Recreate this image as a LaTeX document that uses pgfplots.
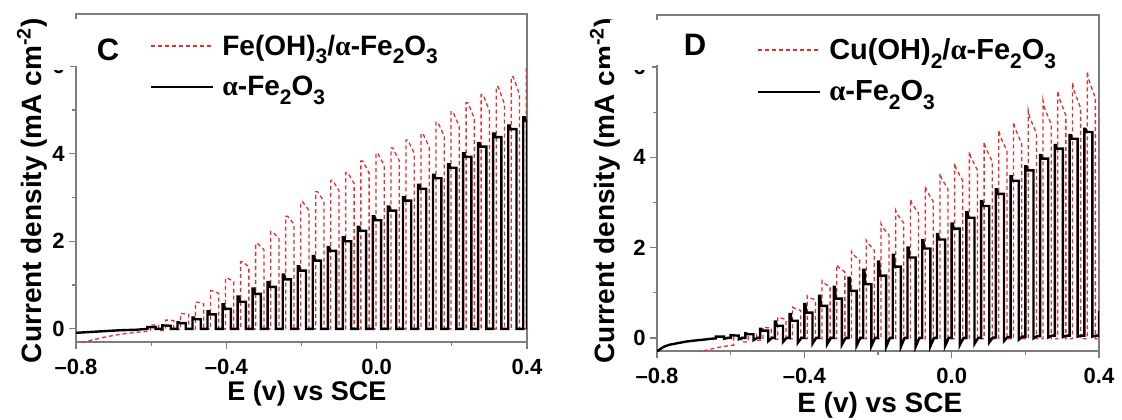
\documentclass[border=0pt]{standalone}
\usepackage{pgfplots}
\pgfplotsset{compat=1.18}
\usepackage{fontspec}
\setmainfont{Liberation Sans}
\newfontfamily\alfont{Liberation Serif}
\newcommand{\alf}{{\alfont\bfseries α}}
\newcommand{\sub}[1]{\raisebox{-0.6ex}{\fontsize{10.5}{11}\selectfont #1}}
\definecolor{redline}{RGB}{232,45,45}
\definecolor{axisgray}{RGB}{125,125,125}
\pgfplotsset{
  panel/.style={
    scale only axis,
    xmin=-0.8, xmax=0.4,
    xtick={-0.8,-0.4,0,0.4},
    xticklabels={–0.8,–0.4,0.0,0.4},
    ytick={0,2,4,6},
    yticklabels={0,2,4,6},
    minor x tick num=1,
    minor y tick num=1,
    tick pos=left,
    tick align=inside,
    major tick length=-3.5pt,
    minor tick length=-2pt,
    axis line style={draw=axisgray, line width=0.6pt},
    every tick/.style={draw=axisgray, line width=0.6pt},
    tick label style={font=\fontsize{11}{13}\selectfont\bfseries, inner sep=0pt},
    xticklabel style={anchor=north, yshift=-8.5pt},
    yticklabel style={anchor=east, xshift=-5.5pt},
    ylabel={Current density (mA cm\textsuperscript{-2})},
    xlabel={E (v) vs SCE},
    legend cell align=left,
    legend image code/.code={\draw[##1, line width=1pt] (0pt,0pt) -- (31pt,0pt);},
    clip=true,
  },
  redser/.style={draw=redline, line width=0.65pt, dash pattern=on 2pt off 1.5pt},
  blackser/.style={draw=black, line width=1.2pt, line join=miter},
}
\begin{document}
\begin{tikzpicture}
\useasboundingbox (0,0) rectangle (561pt,209.5pt);
% ---------------- Panel C ----------------
\begin{axis}[panel,
  at={(38pt,38.5pt)}, anchor=south west,
  width=225.5pt, height=164pt,
  ymin=-0.30, ymax=7.19,
  ylabel style={at={(axis description cs:-0.0976,0.462)}, anchor=center, font=\fontsize{14}{16}\selectfont\bfseries},
  xlabel style={at={(axis description cs:0.512,-0.158)}, anchor=center, font=\fontsize{13.5}{15}\selectfont\bfseries},
  legend style={at={(axis description cs:0.164,0.95)}, anchor=north west, draw=none, fill=none,
    inner sep=0pt, row sep=5pt, font=\fontsize{14}{16}\selectfont\bfseries,
    /tikz/every odd column/.append style={column sep=2pt}},
]
\addplot[redser] coordinates {
(-0.785,-0.32)(-0.76,-0.26)(-0.73,-0.20)(-0.70,-0.15)(-0.67,-0.11)(-0.64,-0.08)
(-0.602,-0.05)(-0.602,0.09)(-0.580,0.08)(-0.580,-0.04)
(-0.562,-0.03)(-0.562,0.20)(-0.557,0.20)(-0.540,0.19)(-0.540,-0.02)
(-0.522,-0.01)(-0.522,0.35)(-0.517,0.35)(-0.500,0.33)(-0.500,0)
(-0.482,0)(-0.482,0.61)(-0.477,0.61)(-0.460,0.57)(-0.460,0)
(-0.442,0)(-0.442,0.87)(-0.437,0.87)(-0.420,0.81)(-0.420,0)
(-0.402,0)(-0.402,1.16)(-0.397,1.16)(-0.380,1.08)(-0.380,0)
(-0.362,0)(-0.362,1.53)(-0.357,1.53)(-0.340,1.42)(-0.340,0)
(-0.322,0)(-0.322,1.95)(-0.317,1.95)(-0.300,1.81)(-0.300,0)
(-0.282,0)(-0.282,2.22)(-0.277,2.22)(-0.260,2.06)(-0.260,0)
(-0.242,0)(-0.242,2.57)(-0.237,2.57)(-0.220,2.39)(-0.220,0)
(-0.202,0)(-0.202,2.90)(-0.197,2.90)(-0.180,2.70)(-0.180,0)
(-0.162,0)(-0.162,3.13)(-0.157,3.13)(-0.140,2.91)(-0.140,0)
(-0.122,0)(-0.122,3.39)(-0.117,3.39)(-0.100,3.15)(-0.100,0)
(-0.082,0)(-0.082,3.57)(-0.077,3.57)(-0.060,3.32)(-0.060,0)
(-0.042,0)(-0.042,3.83)(-0.037,3.83)(-0.020,3.56)(-0.020,0)
(-0.002,0)(-0.002,4.01)(0.003,4.01)(0.020,3.73)(0.020,0)
(0.038,0)(0.038,4.13)(0.043,4.13)(0.060,3.84)(0.060,0)
(0.078,0)(0.078,4.31)(0.083,4.31)(0.100,4.01)(0.100,0)
(0.118,0)(0.118,4.46)(0.123,4.46)(0.140,4.15)(0.140,0)
(0.158,0)(0.158,4.72)(0.163,4.72)(0.180,4.39)(0.180,0)
(0.198,0)(0.198,4.96)(0.203,4.96)(0.220,4.61)(0.220,0)
(0.238,0)(0.238,5.16)(0.243,5.16)(0.260,4.80)(0.260,0)
(0.278,0)(0.278,5.35)(0.283,5.35)(0.300,4.98)(0.300,0)
(0.318,0)(0.318,5.53)(0.323,5.53)(0.340,5.14)(0.340,0)
(0.358,0)(0.358,5.76)(0.363,5.76)(0.380,5.36)(0.380,0)
(0.398,0)(0.398,5.94)(0.40,5.94)
};
\addlegendentry{Fe(OH)\sub{3}/\alf-Fe\sub{2}O\sub{3}}
\addplot[blackser] coordinates {
(-0.80,-0.09)(-0.76,-0.07)(-0.72,-0.05)(-0.68,-0.03)(-0.64,-0.02)
(-0.61,0)(-0.61,0.04)(-0.588,0.04)(-0.588,0)
(-0.57,0)(-0.57,0.08)(-0.548,0.07)(-0.548,0)
(-0.53,0)(-0.53,0.15)(-0.526,0.15)(-0.524,0.13)(-0.508,0.13)(-0.508,0)
(-0.49,0)(-0.49,0.26)(-0.486,0.26)(-0.484,0.22)(-0.468,0.22)(-0.468,0)
(-0.45,0)(-0.45,0.40)(-0.446,0.40)(-0.444,0.33)(-0.428,0.33)(-0.428,0)
(-0.41,0)(-0.41,0.56)(-0.406,0.56)(-0.404,0.46)(-0.388,0.46)(-0.388,0)
(-0.37,0)(-0.37,0.74)(-0.366,0.74)(-0.364,0.62)(-0.348,0.62)(-0.348,0)
(-0.33,0)(-0.33,0.92)(-0.326,0.92)(-0.324,0.80)(-0.308,0.80)(-0.308,0)
(-0.29,0)(-0.29,1.07)(-0.286,1.07)(-0.284,0.96)(-0.268,0.96)(-0.268,0)
(-0.25,0)(-0.25,1.24)(-0.246,1.24)(-0.244,1.13)(-0.228,1.13)(-0.228,0)
(-0.21,0)(-0.21,1.43)(-0.206,1.43)(-0.204,1.33)(-0.188,1.33)(-0.188,0)
(-0.17,0)(-0.17,1.66)(-0.166,1.66)(-0.164,1.56)(-0.148,1.56)(-0.148,0)
(-0.13,0)(-0.13,1.87)(-0.126,1.87)(-0.124,1.78)(-0.108,1.78)(-0.108,0)
(-0.09,0)(-0.09,2.09)(-0.086,2.09)(-0.084,2.00)(-0.068,2.00)(-0.068,0)
(-0.05,0)(-0.05,2.33)(-0.046,2.33)(-0.044,2.24)(-0.028,2.24)(-0.028,0)
(-0.01,0)(-0.01,2.57)(-0.006,2.57)(-0.004,2.48)(0.012,2.48)(0.012,0)
(0.03,0)(0.03,2.79)(0.034,2.79)(0.036,2.70)(0.052,2.70)(0.052,0)
(0.07,0)(0.07,3.01)(0.074,3.01)(0.076,2.93)(0.092,2.93)(0.092,0)
(0.11,0)(0.11,3.29)(0.114,3.29)(0.116,3.20)(0.132,3.20)(0.132,0)
(0.15,0)(0.15,3.52)(0.154,3.52)(0.156,3.44)(0.172,3.44)(0.172,0)
(0.19,0)(0.19,3.76)(0.194,3.76)(0.196,3.68)(0.212,3.68)(0.212,0)
(0.23,0)(0.23,4.01)(0.234,4.01)(0.236,3.93)(0.252,3.93)(0.252,0)
(0.27,0)(0.27,4.24)(0.274,4.24)(0.276,4.16)(0.292,4.16)(0.292,0)
(0.31,0)(0.31,4.46)(0.314,4.46)(0.316,4.38)(0.332,4.38)(0.332,0)
(0.35,0)(0.35,4.64)(0.354,4.64)(0.356,4.56)(0.372,4.56)(0.372,0)
(0.39,0)(0.39,4.83)(0.394,4.83)(0.396,4.75)(0.40,4.75)(0.40,0)
};
\addlegendentry{\alf-Fe\sub{2}O\sub{3}}
\node[font=\fontsize{15.5}{17}\selectfont\bfseries] at (axis description cs:0.071,0.89) {C};
\end{axis}
% ---------------- Panel D ----------------
\begin{axis}[panel,
  at={(328.5pt,34pt)}, anchor=south west,
  width=221pt, height=168pt,
  ymin=-0.29, ymax=7.15,
  ylabel style={at={(axis description cs:-0.118,0.477)}, anchor=center, font=\fontsize{14}{16}\selectfont\bfseries},
  xlabel style={at={(axis description cs:0.504,-0.162)}, anchor=center, font=\fontsize{14}{15}\selectfont\bfseries},
  legend style={at={(axis description cs:0.226,0.944)}, anchor=north west, draw=none, fill=none,
    inner sep=0pt, row sep=5pt, font=\fontsize{14.5}{16}\selectfont\bfseries,
    /tikz/every odd column/.append style={column sep=2pt}},
]
\addplot[redser] coordinates {
(-0.80,-0.62)(-0.74,-0.45)(-0.70,-0.34)(-0.67,-0.28)(-0.64,-0.22)(-0.62,-0.19)
(-0.592,-0.16)(-0.592,0.05)(-0.570,0.05)(-0.570,-0.09)
(-0.552,-0.09)(-0.552,0.09)(-0.530,0.08)(-0.530,-0.05)
(-0.512,-0.05)(-0.512,0.24)(-0.508,0.23)(-0.490,0.22)(-0.490,-0.03)
(-0.472,-0.03)(-0.472,0.46)(-0.468,0.45)(-0.450,0.41)(-0.450,-0.02)
(-0.432,-0.02)(-0.432,0.68)(-0.428,0.66)(-0.410,0.61)(-0.410,-0.02)
(-0.392,-0.02)(-0.392,0.93)(-0.388,0.90)(-0.370,0.84)(-0.370,-0.02)
(-0.352,-0.02)(-0.352,1.26)(-0.348,1.22)(-0.330,1.13)(-0.330,-0.02)
(-0.312,-0.02)(-0.312,1.62)(-0.308,1.57)(-0.290,1.46)(-0.290,-0.02)
(-0.272,-0.02)(-0.272,1.91)(-0.268,1.85)(-0.250,1.72)(-0.250,-0.02)
(-0.232,-0.02)(-0.232,2.16)(-0.228,2.10)(-0.210,1.94)(-0.210,-0.02)
(-0.192,-0.02)(-0.192,2.53)(-0.188,2.45)(-0.170,2.28)(-0.170,-0.02)
(-0.152,-0.02)(-0.152,2.82)(-0.148,2.74)(-0.130,2.54)(-0.130,-0.02)
(-0.112,-0.02)(-0.112,3.07)(-0.108,2.98)(-0.090,2.76)(-0.090,-0.02)
(-0.072,-0.02)(-0.072,3.36)(-0.068,3.26)(-0.050,3.02)(-0.050,-0.02)
(-0.032,-0.02)(-0.032,3.65)(-0.028,3.54)(-0.010,3.29)(-0.010,-0.02)
(0.008,-0.02)(0.008,3.87)(0.012,3.75)(0.030,3.48)(0.030,-0.02)
(0.048,-0.02)(0.048,4.12)(0.052,4.00)(0.070,3.71)(0.070,-0.02)
(0.088,-0.02)(0.088,4.34)(0.092,4.21)(0.110,3.91)(0.110,-0.02)
(0.128,-0.02)(0.128,4.60)(0.132,4.46)(0.150,4.14)(0.150,-0.02)
(0.168,-0.02)(0.168,4.78)(0.172,4.64)(0.190,4.30)(0.190,-0.02)
(0.208,-0.02)(0.208,5.03)(0.212,4.88)(0.230,4.53)(0.230,-0.02)
(0.248,-0.02)(0.248,5.25)(0.252,5.09)(0.270,4.73)(0.270,-0.02)
(0.288,-0.02)(0.288,5.47)(0.292,5.31)(0.310,4.92)(0.310,-0.02)
(0.328,-0.02)(0.328,5.65)(0.332,5.48)(0.350,5.09)(0.350,-0.02)
(0.368,-0.02)(0.368,5.90)(0.372,5.72)(0.390,5.31)(0.390,-0.02)
(0.40,-0.02)
};
\addlegendentry{Cu(OH)\sub{2}/\alf-Fe\sub{2}O\sub{3}}
\addplot[blackser] coordinates {
(-0.80,-0.30)(-0.79,-0.24)(-0.78,-0.19)(-0.765,-0.15)(-0.74,-0.11)(-0.72,-0.08)(-0.70,-0.06)(-0.675,-0.04)(-0.655,-0.02)
(-0.64,-0.01)(-0.64,0.03)(-0.618,0.03)(-0.618,-0.02)(-0.608,0)
(-0.60,0)(-0.60,0.06)(-0.578,0.05)(-0.578,-0.03)(-0.568,0)
(-0.56,0)(-0.56,0.10)(-0.557,0.10)(-0.555,0.08)(-0.538,0.08)(-0.538,-0.05)(-0.528,0)
(-0.52,0)(-0.52,0.20)(-0.517,0.20)(-0.515,0.16)(-0.498,0.16)(-0.498,-0.07)(-0.488,0)
(-0.48,0)(-0.48,0.36)(-0.477,0.36)(-0.475,0.27)(-0.458,0.27)(-0.458,-0.09)(-0.448,0)
(-0.44,0)(-0.44,0.53)(-0.437,0.53)(-0.435,0.38)(-0.418,0.38)(-0.418,-0.11)(-0.408,0)
(-0.40,0)(-0.40,0.75)(-0.397,0.75)(-0.395,0.56)(-0.378,0.56)(-0.378,-0.13)(-0.368,0)
(-0.36,0)(-0.36,0.93)(-0.357,0.93)(-0.355,0.71)(-0.338,0.71)(-0.338,-0.14)(-0.328,0)
(-0.32,0)(-0.32,1.13)(-0.317,1.13)(-0.315,0.87)(-0.298,0.87)(-0.298,-0.15)(-0.288,0)
(-0.28,0)(-0.28,1.33)(-0.277,1.33)(-0.275,1.04)(-0.258,1.04)(-0.258,-0.17)(-0.248,0)
(-0.24,0)(-0.24,1.51)(-0.237,1.51)(-0.235,1.19)(-0.218,1.19)(-0.218,-0.18)(-0.208,0)
(-0.20,0)(-0.20,1.69)(-0.197,1.69)(-0.195,1.38)(-0.178,1.38)(-0.178,-0.20)(-0.168,0)
(-0.16,0)(-0.16,1.84)(-0.157,1.84)(-0.155,1.58)(-0.138,1.58)(-0.138,-0.20)(-0.128,0)
(-0.12,0)(-0.12,2.00)(-0.117,2.00)(-0.115,1.78)(-0.098,1.78)(-0.098,-0.20)(-0.088,0)
(-0.08,0)(-0.08,2.16)(-0.077,2.16)(-0.075,1.98)(-0.058,1.98)(-0.058,-0.19)(-0.048,0)
(-0.04,0)(-0.04,2.30)(-0.037,2.30)(-0.035,2.18)(-0.018,2.18)(-0.018,-0.18)(-0.008,0)
(0,0)(0,2.53)(0.003,2.53)(0.005,2.42)(0.022,2.42)(0.022,-0.16)(0.032,0)
(0.04,0)(0.04,2.78)(0.043,2.78)(0.045,2.66)(0.062,2.66)(0.062,-0.13)(0.072,0)
(0.08,0)(0.08,3.03)(0.083,3.03)(0.085,2.92)(0.102,2.92)(0.102,-0.10)(0.112,0.01)
(0.12,0.01)(0.12,3.29)(0.123,3.29)(0.125,3.19)(0.142,3.19)(0.142,-0.07)(0.152,0.02)
(0.16,0.02)(0.16,3.58)(0.163,3.58)(0.165,3.48)(0.182,3.48)(0.182,-0.04)(0.192,0.03)
(0.20,0.03)(0.20,3.80)(0.203,3.80)(0.205,3.71)(0.222,3.71)(0.222,-0.01)(0.232,0.04)
(0.24,0.04)(0.24,4.05)(0.243,4.05)(0.245,3.97)(0.262,3.97)(0.262,0.01)(0.272,0.05)
(0.28,0.05)(0.28,4.27)(0.283,4.27)(0.285,4.19)(0.302,4.19)(0.302,0.02)(0.312,0.05)
(0.32,0.05)(0.32,4.49)(0.323,4.49)(0.325,4.41)(0.342,4.41)(0.342,0.03)(0.352,0.05)
(0.36,0.05)(0.36,4.63)(0.363,4.63)(0.365,4.56)(0.382,4.56)(0.382,0.03)(0.392,0.05)
(0.40,0.05)(0.40,0.60)
};
\addlegendentry{\alf-Fe\sub{2}O\sub{3}}
\node[font=\fontsize{15.5}{17}\selectfont\bfseries] at (axis description cs:0.086,0.91) {D};
\end{axis}
% white patches that hide part of the left frame and most of the "6" labels, as in the original
\fill[white] (24pt,174.5pt) rectangle (35pt,200pt);
\fill[white] (35pt,176.5pt) rectangle (39.5pt,200pt);
\fill[white] (305pt,174.5pt) rectangle (326pt,199.5pt);
\fill[white] (326pt,177pt) rectangle (330pt,199.5pt);
\end{tikzpicture}
\end{document}
